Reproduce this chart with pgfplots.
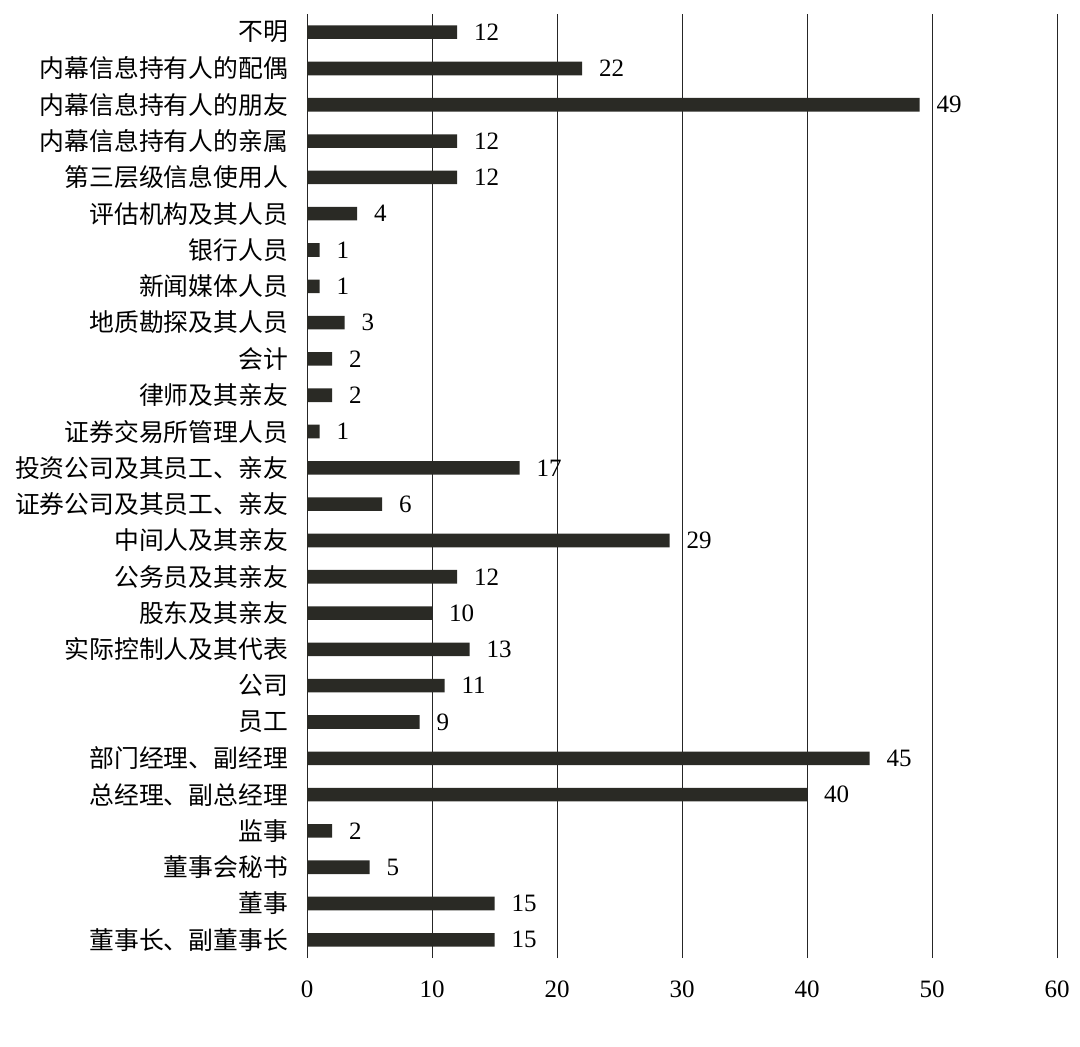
\documentclass[border=0pt]{standalone}
\usepackage{fontspec}
\setmainfont{Liberation Serif}
\newfontfamily\cjk{Noto Sans CJK SC}
\usepackage{pgfplots}
\pgfplotsset{compat=1.18}
\definecolor{barfill}{HTML}{2A2A25}

\begin{document}
\begin{tikzpicture}
\path[use as bounding box] (0,0) rectangle (540pt,523pt);
\begin{axis}[
  at={(153.5pt,44pt)}, anchor=south west,
  scale only axis,
  width=375pt, height=472pt,
  xbar, bar width=6.8pt,
  xmin=0, xmax=60, ymin=-0.5, ymax=25.5,
  xtick={0,10,...,60},
  ytick={0,...,25},
  yticklabels={董事长、副董事长,董事,董事会秘书,监事,总经理、副总经理,部门经理、副经理,员工,公司,实际控制人及其代表,股东及其亲友,公务员及其亲友,中间人及其亲友,证券公司及其员工、亲友,投资公司及其员工、亲友,证券交易所管理人员,律师及其亲友,会计,地质勘探及其人员,新闻媒体人员,银行人员,评估机构及其人员,第三层级信息使用人,内幕信息持有人的亲属,内幕信息持有人的朋友,内幕信息持有人的配偶,不明},
  axis line style={draw=none},
  major tick length=0pt,
  xmajorgrids,
  grid style={black!85, line width=0.45pt},
  yticklabel style={font=\cjk\fontsize{12.4}{14}\selectfont, xshift=-6pt},
  xticklabel style={font=\fontsize{12.5}{14}\selectfont, yshift=-8pt},
  /pgf/number format/assume math mode=true,
  nodes near coords,
  nodes near coords style={font=\fontsize{12.5}{14}\selectfont, xshift=5pt, black},
]
\addplot[fill=barfill, draw=none] coordinates {
(15,0) (15,1) (5,2) (2,3) (40,4) (45,5) (9,6) (11,7) (13,8) (10,9)
(12,10) (29,11) (6,12) (17,13) (1,14) (2,15) (2,16) (3,17) (1,18) (1,19)
(4,20) (12,21) (12,22) (49,23) (22,24) (12,25)
};
\end{axis}
\end{tikzpicture}
\end{document}
